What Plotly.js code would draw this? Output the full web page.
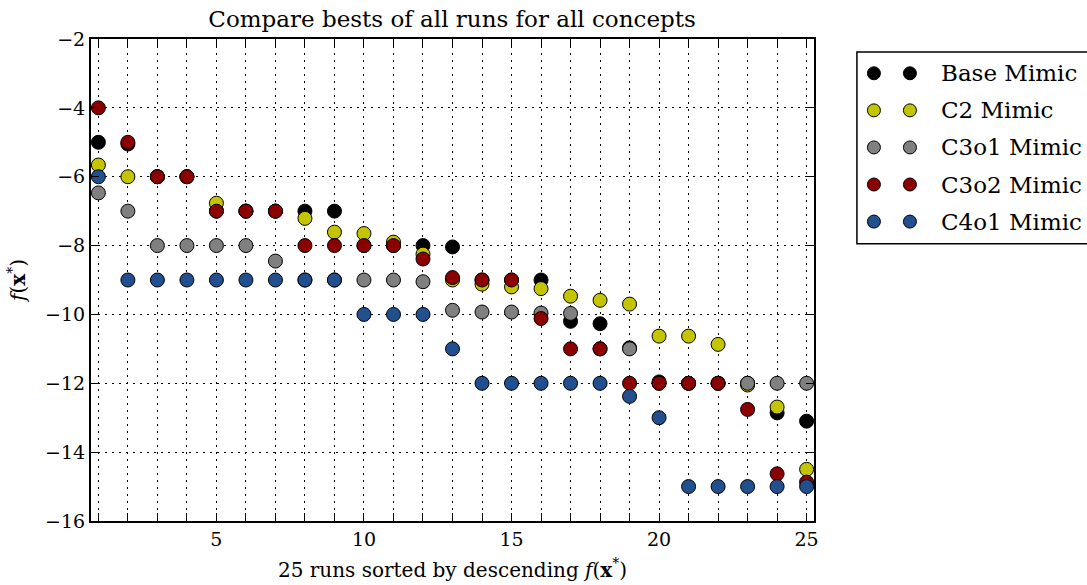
<!DOCTYPE html>
<html>
<head>
<meta charset="utf-8">
<script src="https://cdn.plot.ly/plotly-3.0.1.min.js"></script>
<style>
  html, body { margin: 0; padding: 0; background: #ffffff; }
  #chart { width: 1087px; height: 585px; }
</style>
</head>
<body>
<div id="chart"></div>
<script>
// Run index (1 = best run), runs sorted by descending f(x*)
const runs = [1, 2, 3, 4, 5, 6, 7, 8, 9, 10, 11, 12, 13, 14, 15, 16, 17, 18, 19, 20, 21, 22, 23, 24, 25];

// Best objective value of each run, per concept
const baseMimic = [-5.0, -5.05, -6.0, -6.0, -7.0, -7.0, -7.0, -7.0, -7.0, -8.0, -8.0, -8.0, -8.04,
                   -9.0, -9.0, -9.0, -10.2, -10.27, -10.97, -11.96, -12.0, -12.0, -12.0, -12.86, -13.1];
const c2Mimic   = [-5.66, -6.0, -6.0, -6.0, -6.77, -7.0, -7.0, -7.21, -7.61, -7.65, -7.9, -8.25, -9.0,
                   -9.12, -9.2, -9.25, -9.47, -9.59, -9.7, -10.63, -10.63, -10.87, -12.05, -12.69, -14.5];
const c3o1Mimic = [-6.47, -7.0, -8.0, -8.0, -8.0, -8.0, -8.45, -9.0, -9.0, -9.0, -9.0, -9.05, -9.88,
                   -9.93, -9.93, -9.96, -9.97, -11.0, -11.0, -12.0, -12.0, -12.0, -12.0, -12.0, -12.0];
const c3o2Mimic = [-4.0, -5.0, -6.0, -6.0, -7.0, -7.0, -7.0, -8.0, -8.0, -8.0, -8.0, -8.39, -8.93,
                   -9.0, -9.0, -10.12, -11.0, -11.0, -12.0, -12.0, -12.0, -12.0, -12.76, -14.63, -14.87];
const c4o1Mimic = [-6.0, -9.0, -9.0, -9.0, -9.0, -9.0, -9.0, -9.0, -9.0, -10.0, -10.0, -10.0, -11.0,
                   -12.0, -12.0, -12.0, -12.0, -12.0, -12.38, -13.0, -15.0, -15.0, -15.0, -15.0, -15.0];

const seriesNames  = ['Base Mimic', 'C2 Mimic', 'C3o1 Mimic', 'C3o2 Mimic', 'C4o1 Mimic'];
const seriesValues = [baseMimic, c2Mimic, c3o1Mimic, c3o2Mimic, c4o1Mimic];
const seriesColors = ['#000000', '#c4c400', '#808080', '#8b0000', '#22508f'];

// Axis ticks
const xLabelled = [5, 10, 15, 20, 25];
const yTicks = [-16, -14, -12, -10, -8, -6, -4, -2];

const FONT = 'DejaVu Serif, Liberation Serif, serif';
const GRID_DASH = '1.5px,5.5px';
const traces = [];

// Main scatter: one marker trace per concept, later concepts drawn on top
seriesValues.forEach((vals, i) => {
  traces.push({
    type: 'scatter', mode: 'markers',
    x: runs, y: vals, name: seriesNames[i],
    xaxis: 'x', yaxis: 'y',
    cliponaxis: false,
    showlegend: false,
    marker: { size: 14, color: seriesColors[i], line: { color: '#000000', width: 1 } }
  });
});

// Key: two sample markers per concept in a small side panel
const keySamples = [0, 1];
const annotations = [];
seriesNames.forEach((name, i) => {
  traces.push({
    type: 'scatter', mode: 'markers',
    x: keySamples, y: keySamples.map(() => i),
    xaxis: 'x2', yaxis: 'y2',
    showlegend: false, hoverinfo: 'skip',
    marker: { size: 13, color: seriesColors[i], line: { color: '#000000', width: 1 } }
  });
  annotations.push({
    xref: 'x2', yref: 'y2', x: 1.8, y: i,
    xanchor: 'left', yanchor: 'middle', showarrow: false,
    text: name, font: { family: FONT, size: 23, color: '#000000' }
  });
});

const fx = '<i>f</i>(<b>x</b><sup>*</sup>)';

const layout = {
  width: 1087, height: 585,
  paper_bgcolor: '#ffffff', plot_bgcolor: '#ffffff',
  margin: { l: 91, r: 0, t: 39, b: 64 },
  font: { family: FONT, size: 18, color: '#000000' },
  title: {
    text: 'Compare bests of all runs for all concepts',
    x: 0.3625, xref: 'paper', xanchor: 'center',
    y: 0.968, yref: 'container', yanchor: 'middle',
    font: { family: FONT, size: 23, color: '#000000' }
  },
  xaxis: {
    domain: [0, 0.7259], range: [0.75, 25.25],
    tickmode: 'array', tickvals: xLabelled,
    ticks: 'inside', ticklen: 8, tickwidth: 1, tickcolor: '#000000',
    minor: {
      tickmode: 'array', tickvals: runs,
      ticks: 'inside', ticklen: 8, tickwidth: 1, tickcolor: '#000000',
      showgrid: true, gridcolor: '#000000', gridwidth: 1, griddash: GRID_DASH
    },
    showline: true, linecolor: '#000000', linewidth: 2, mirror: 'allticks',
    showgrid: true, gridcolor: '#000000', gridwidth: 1, griddash: GRID_DASH,
    zeroline: false,
    tickfont: { family: FONT, size: 19 },
    title: { text: '25 runs sorted by descending ' + fx, standoff: 14,
             font: { family: FONT, size: 20 } }
  },
  yaxis: {
    domain: [0, 1], range: [-16, -2],
    tickmode: 'array', tickvals: yTicks,
    ticks: 'inside', ticklen: 8, tickwidth: 1, tickcolor: '#000000',
    showline: true, linecolor: '#000000', linewidth: 2, mirror: 'allticks',
    showgrid: true, gridcolor: '#000000', gridwidth: 1, griddash: GRID_DASH,
    zeroline: false,
    tickfont: { family: FONT, size: 19 },
    title: { text: fx, standoff: 14, font: { family: FONT, size: 20 } }
  },
  xaxis2: { domain: [0.769, 1], range: [-0.472, 5.917], anchor: 'y2', visible: false, fixedrange: true },
  yaxis2: { domain: [0.575, 0.973], range: [4.601, -0.574], anchor: 'x2', visible: false, fixedrange: true },
  shapes: [{
    type: 'rect', xref: 'paper', yref: 'paper',
    x0: 0.769, x1: 1.05, y0: 0.575, y1: 0.973,
    line: { color: '#000000', width: 1.5 }, fillcolor: 'rgba(0,0,0,0)'
  }],
  annotations: annotations,
  showlegend: false
};

Plotly.newPlot('chart', traces, layout, { displayModeBar: false, staticPlot: true });
</script>
</body>
</html>
